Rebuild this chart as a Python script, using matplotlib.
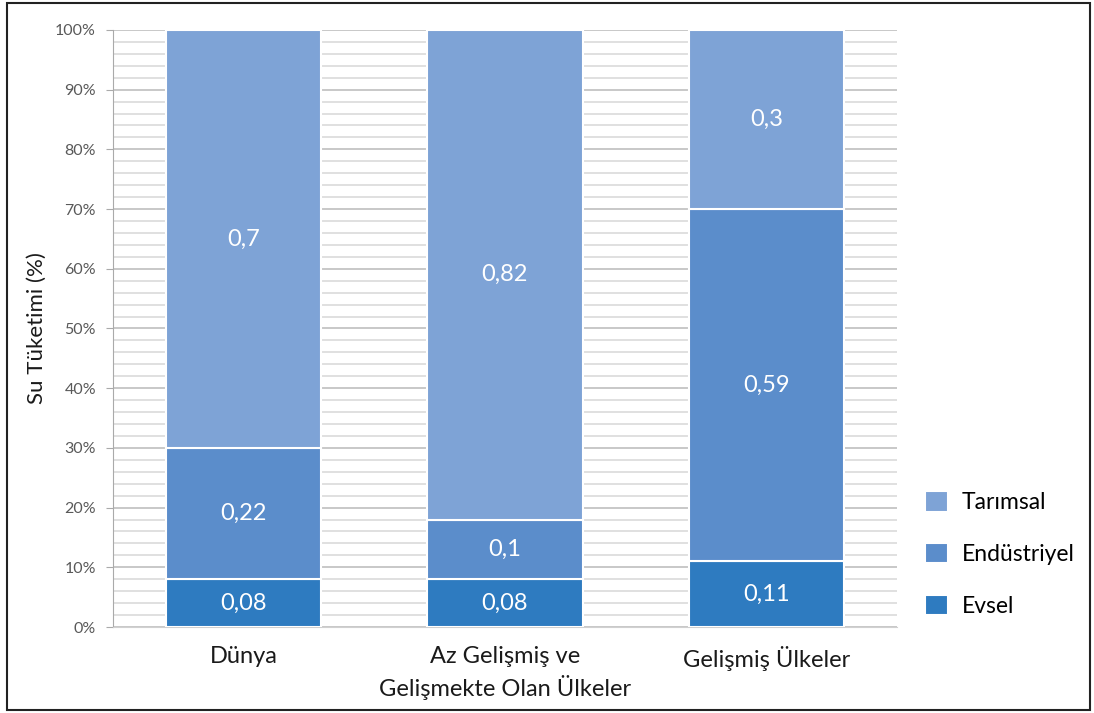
import matplotlib.pyplot as plt
from matplotlib.patches import Rectangle
import numpy as np

categories = ["Dünya", "Az Gelişmiş ve\nGelişmekte Olan Ülkeler", "Gelişmiş Ülkeler"]
series_names = ["Evsel", "Endüstriyel", "Tarımsal"]
evsel = [0.08, 0.08, 0.11]
endustriyel = [0.22, 0.10, 0.59]
tarimsal = [0.70, 0.82, 0.30]
value_labels = [
    ["0,08", "0,08", "0,11"],
    ["0,22", "0,1", "0,59"],
    ["0,7", "0,82", "0,3"],
]
ytick_values = np.arange(0, 101, 10)
ytick_labels = [f"{v}%" for v in ytick_values]

colors = ["#2e7bc0", "#5b8dcb", "#7ea3d6"]

plt.rcParams["font.family"] = ["Lato", "DejaVu Sans"]

fig = plt.figure(figsize=(10.94, 7.13), dpi=100)
ax = fig.add_axes([0.103, 0.1206, 0.717, 0.8374])

x = np.arange(len(categories))
bottom = np.zeros(len(categories))
bars = []
for name, vals, col, labs in zip(series_names, [evsel, endustriyel, tarimsal], colors, value_labels):
    vals = np.array(vals) * 100
    b = ax.bar(x, vals, width=0.594, bottom=bottom, color=col, edgecolor="white",
               linewidth=1.5, label=name, zorder=3)
    bars.append(b)
    for xi, bi, vi, lab in zip(x, bottom, vals, labs):
        ax.text(xi, bi + vi / 2, lab, ha="center", va="center", color="white",
                fontsize=17, zorder=4)
    bottom = bottom + vals

ax.set_xlim(-0.5, 2.5)
ax.set_ylim(0, 100)
ax.set_yticks(ytick_values)
ax.set_yticklabels(ytick_labels, fontsize=11.5, color="#595959")
ax.set_yticks(np.arange(0, 101, 2), minor=True)
ax.grid(axis="y", which="major", color="#c8c8c8", linewidth=1.4, zorder=0)
ax.grid(axis="y", which="minor", color="#e0e0e0", linewidth=1.4, zorder=0)
ax.tick_params(axis="y", which="major", length=5, color="#aaaaaa", pad=7)
ax.tick_params(axis="y", which="minor", length=0)
ax.set_xticks(x)
ax.set_xticklabels(categories, fontsize=17, color="#1a1a1a", linespacing=1.35)
ax.tick_params(axis="x", length=0, pad=14)

for s in ["top", "right"]:
    ax.spines[s].set_visible(False)
ax.spines["left"].set_color("#aaaaaa")
ax.spines["bottom"].set_color("#d0d0d0")

ax.set_ylabel("Su Tüketimi (%)", fontsize=16, color="#1a1a1a", labelpad=6)

handles = [bars[2], bars[1], bars[0]]
fig.legend(handles, ["Tarımsal", "Endüstriyel", "Evsel"], loc="center left",
           bbox_to_anchor=(0.827, 0.223), frameon=False, fontsize=16.5,
           handlelength=1.0, handleheight=1.0, labelspacing=1.3, handletextpad=0.6)

fig.patches.append(Rectangle((0.0064, 0.004), 0.99, 0.9916, transform=fig.transFigure,
                             fill=False, edgecolor="#222222", linewidth=1.5))

fig.savefig("out.png", dpi=100)
